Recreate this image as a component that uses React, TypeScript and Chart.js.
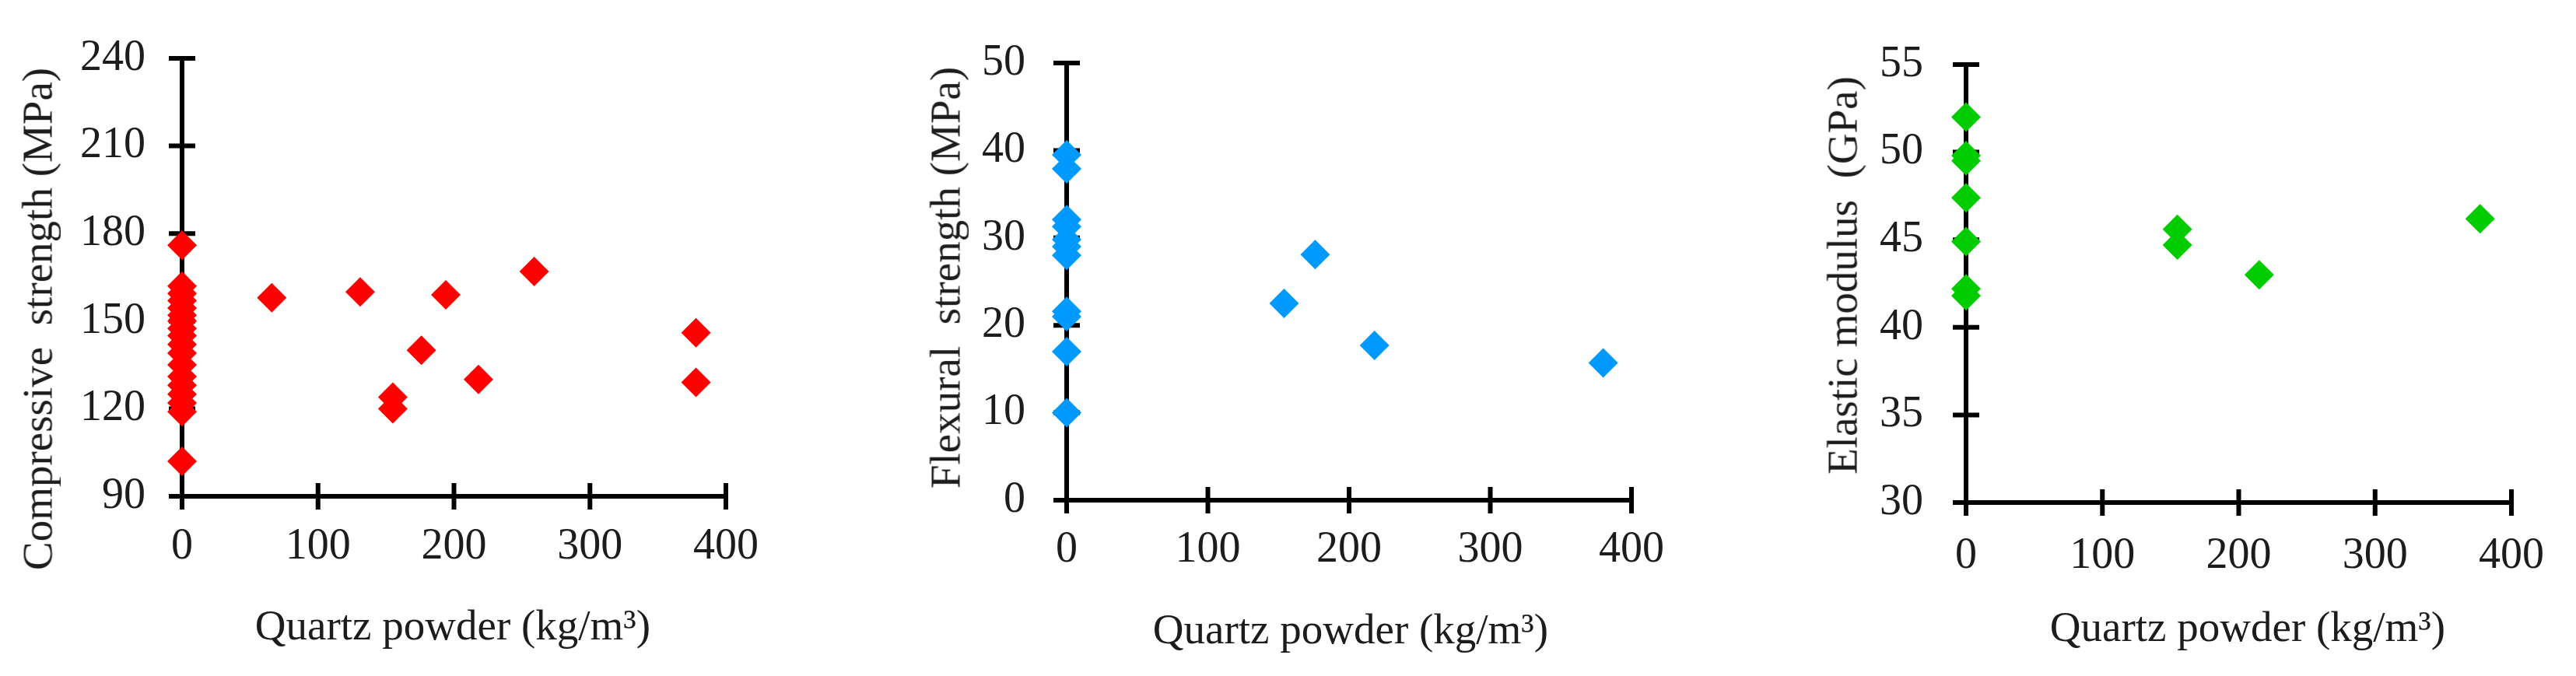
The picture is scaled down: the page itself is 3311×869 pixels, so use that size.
import { useEffect, useRef } from "react";
import { Chart, registerables } from "chart.js";

Chart.register(...registerables);

// ---------- data ----------
const xTickValues = [0, 100, 200, 300, 400];

const compressiveX = [0, 0, 0, 0, 0, 0, 0, 0, 0, 0, 0, 0, 0, 0, 0, 0, 0, 0, 66, 131, 155, 155, 176, 194, 218, 259, 378, 378];
const compressiveY = [176, 162, 159.5, 157, 154.5, 152, 150, 147.5, 145, 142, 139, 135, 131, 128, 125, 122, 119, 102, 158, 160, 124, 120, 140, 159, 130, 167, 146, 129];
const compressiveTicks = [90, 120, 150, 180, 210, 240];

const flexuralX = [0, 0, 0, 0, 0, 0, 0, 0, 0, 0, 0, 154, 176, 218, 380];
const flexuralY = [39.5, 37.9, 32.1, 31.3, 29.8, 29.0, 28.0, 21.6, 21.0, 17.0, 10.0, 22.5, 28.1, 17.7, 15.7];
const flexuralTicks = [0, 10, 20, 30, 40, 50];

const elasticX = [0, 0, 0, 0, 0, 0, 0, 155, 155, 215, 377];
const elasticY = [52.0, 49.8, 49.5, 47.4, 44.9, 42.2, 41.8, 45.6, 44.7, 43.0, 46.2];
const elasticTicks = [30, 35, 40, 45, 50, 55];

const xTitle = "Quartz powder (kg/m\u00B3)";
const yTitles = ["Compressive  strength (MPa)", "Flexural  strength (MPa)", "Elastic modulus  (GPa)"];

// ---------- layout / style ----------
const H = 869;
const FONT = '"Liberation Serif", "Times New Roman", serif';
const TEXT = "#1c1c1c";

type Panel = {
  xs: number[];
  ys: number[];
  yTicks: number[];
  color: string;
  left: number;
  width: number;
  axisX: number;
  axisRight: number;
  top: number;
  bottom: number;
  yPad: number;
  xPad: number;
  yTitle: string;
  yTitleX: number;
  yTitleY: number;
  xTitleX: number;
  xTitleY: number;
};

const panels: Panel[] = [
  {
    xs: compressiveX, ys: compressiveY, yTicks: compressiveTicks, color: "#ff0000",
    left: 0, width: 1100, axisX: 234, axisRight: 933, top: 56, bottom: 638, yPad: 47, xPad: 37,
    yTitle: yTitles[0], yTitleX: 48, yTitleY: 410, xTitleX: 582, xTitleY: 803,
  },
  {
    xs: flexuralX, ys: flexuralY, yTicks: flexuralTicks, color: "#0099ff",
    left: 1100, width: 1150, axisX: 1371, axisRight: 2097, top: 60, bottom: 643, yPad: 53, xPad: 36,
    yTitle: yTitles[1], yTitleX: 1215, yTitleY: 357, xTitleX: 1736, xTitleY: 808,
  },
  {
    xs: elasticX, ys: elasticY, yTicks: elasticTicks, color: "#00cc00",
    left: 2250, width: 1061, axisX: 2527, axisRight: 3254, top: 63, bottom: 646, yPad: 55, xPad: 41,
    yTitle: yTitles[2], yTitleX: 2368, yTitleY: 354, xTitleX: 2889, xTitleY: 805,
  },
];

const crossAxes = {
  id: "crossAxes",
  beforeDatasetsDraw(chart: any) {
    const { ctx } = chart;
    const xs = chart.scales.x;
    const ys = chart.scales.y;
    const x0 = xs.getPixelForValue(xs.min);
    const x1 = xs.getPixelForValue(xs.max);
    const y0 = ys.getPixelForValue(ys.min);
    const y1 = ys.getPixelForValue(ys.max);
    const t = 17;
    ctx.save();
    ctx.strokeStyle = "#000";
    ctx.lineWidth = 6;
    ctx.lineCap = "butt";
    ctx.beginPath();
    ctx.moveTo(x0, y0);
    ctx.lineTo(x0, y1);
    ctx.moveTo(x0, y0);
    ctx.lineTo(x1, y0);
    ys.ticks.forEach((tk: any) => {
      const p = ys.getPixelForValue(tk.value);
      ctx.moveTo(x0 - t, p);
      ctx.lineTo(x0 + t, p);
    });
    xs.ticks.forEach((tk: any) => {
      const p = xs.getPixelForValue(tk.value);
      ctx.moveTo(p, y0 - t);
      ctx.lineTo(p, y0 + t);
    });
    ctx.stroke();
    ctx.restore();
  },
};

function PanelChart({ p }: { p: Panel }) {
  const ref = useRef<HTMLCanvasElement | null>(null);
  useEffect(() => {
    if (!ref.current) return;
    const yMin = p.yTicks[0];
    const yMax = p.yTicks[p.yTicks.length - 1];
    const chart = new Chart(ref.current, {
      type: "scatter",
      data: {
        datasets: [
          {
            data: p.xs.map((x, i) => ({ x, y: p.ys[i] })),
            pointStyle: "rectRot",
            pointRadius: 19,
            pointHoverRadius: 19,
            pointBorderWidth: 0,
            backgroundColor: p.color,
            borderColor: p.color,
            clip: false,
          } as any,
        ],
      },
      options: {
        responsive: false,
        animation: false,
        events: [],
        layout: {
          padding: { top: p.top, right: p.width - (p.axisRight - p.left), left: 0, bottom: 0 },
        },
        plugins: { legend: { display: false }, tooltip: { enabled: false } },
        scales: {
          x: {
            type: "linear",
            min: xTickValues[0],
            max: xTickValues[xTickValues.length - 1],
            offset: false,
            border: { display: false },
            grid: { display: false, drawTicks: false },
            afterBuildTicks: (s: any) => {
              s.ticks = xTickValues.map((v) => ({ value: v }));
            },
            afterFit: (s: any) => {
              s.height = H - p.bottom;
            },
            ticks: {
              padding: p.xPad,
              maxRotation: 0,
              autoSkip: false,
              color: TEXT,
              font: { family: FONT, size: 56, lineHeight: 1 },
            },
          },
          y: {
            type: "linear",
            min: yMin,
            max: yMax,
            offset: false,
            border: { display: false },
            grid: { display: false, drawTicks: false },
            afterBuildTicks: (s: any) => {
              s.ticks = p.yTicks.map((v) => ({ value: v }));
            },
            afterFit: (s: any) => {
              s.width = p.axisX - p.left;
            },
            ticks: {
              padding: p.yPad,
              autoSkip: false,
              color: TEXT,
              font: { family: FONT, size: 56, lineHeight: 1 },
            },
          },
        },
      },
      plugins: [crossAxes],
    });
    return () => chart.destroy();
  }, [p]);
  return (
    <canvas
      ref={ref}
      width={p.width}
      height={H}
      style={{ position: "absolute", left: p.left, top: 0, width: p.width, height: H }}
    />
  );
}

export default function App() {
  useEffect(() => {
    document.body.style.margin = "0";
  }, []);
  const titleStyle = {
    position: "absolute" as const,
    font: `55px ${FONT}`,
    lineHeight: 1,
    color: TEXT,
    whiteSpace: "pre" as const,
  };
  return (
    <div style={{ position: "absolute", left: 0, top: 0, width: 3311, height: H, background: "#fff", overflow: "hidden" }}>
      {panels.map((p, i) => (
        <PanelChart key={i} p={p} />
      ))}
      {panels.map((p, i) => (
        <div
          key={"xt" + i}
          style={{ ...titleStyle, left: p.xTitleX, top: p.xTitleY, transform: "translate(-50%, -50%)" }}
        >
          {xTitle}
        </div>
      ))}
      {panels.map((p, i) => (
        <div
          key={"yt" + i}
          style={{ ...titleStyle, left: p.yTitleX, top: p.yTitleY, transform: "translate(-50%, -50%) rotate(-90deg)" }}
        >
          {p.yTitle}
        </div>
      ))}
    </div>
  );
}
